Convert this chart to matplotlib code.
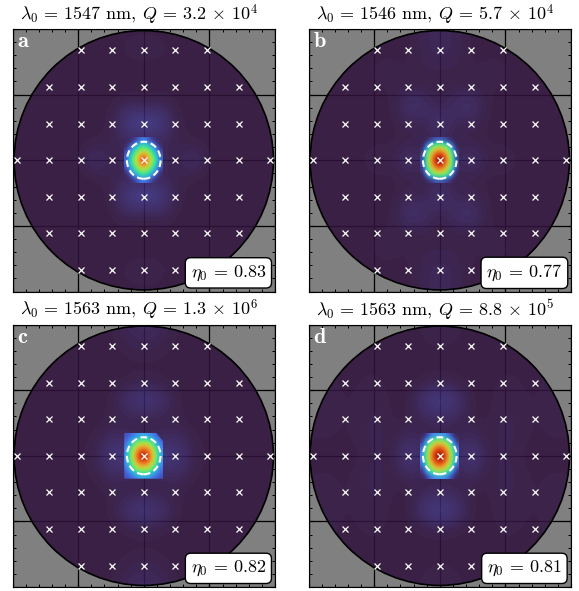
import numpy as np
import matplotlib
matplotlib.use('Agg')
import matplotlib.pyplot as plt
from matplotlib.patches import Circle, Ellipse, Polygon
from matplotlib.ticker import MultipleLocator

plt.rcParams['mathtext.fontset'] = 'cm'
plt.rcParams['font.family'] = 'serif'
plt.rcParams['font.serif'] = ['DejaVu Serif']

panel_names = ['a', 'b', 'c', 'd']
wavelengths = [1547, 1546, 1563, 1563]
q_mant = ['3.2', '5.7', '1.3', '8.8']
q_exp = [4, 4, 6, 5]
eta = ['0.83', '0.77', '0.82', '0.81']

# lattice of the crosses
dx = 0.2408
dy = 0.2788
row_index = [-3, -2, -1, 0, 1, 2, 3]
row_halfcount = [2, 3, 3, 4, 3, 3, 2]

circle_r = 0.988
ell_w = 0.128
ell_h = 0.141

# far field, one quadrant, rows go up in steps of dy/2, columns go right in steps of dx/2
far_a = [[.03, .02, .006, .028, .006, 0, 0, 0, 0],
         [.012, .012, .006, .004, .001, 0, 0, 0, 0],
         [.060, .050, .006, .001, 0, 0, 0, 0, 0],
         [.006, .012, .004, 0, 0, 0, 0, 0, 0],
         [0, .001, 0, 0, 0, 0, 0, 0, 0],
         [0, 0, 0, 0, 0, 0, 0, 0, 0],
         [.010, .008, 0, 0, 0, 0, 0, 0, 0],
         [.002, .002, 0, 0, 0, 0, 0, 0, 0]]
far_b = [[.03, .015, .030, .006, .010, .004, 0, 0, 0],
         [.012, .005, .005, .002, .003, 0, 0, 0, 0],
         [.035, .008, .012, .002, .002, 0, 0, 0, 0],
         [.005, .024, .030, .003, .002, 0, 0, 0, 0],
         [.003, .005, .005, .004, .004, .002, 0, 0, 0],
         [.008, .008, .003, .006, .006, .001, 0, 0, 0],
         [.016, .010, .003, .002, .002, 0, 0, 0, 0],
         [.016, .010, .002, 0, 0, 0, 0, 0, 0]]
far_c = [[.05, .050, .040, .010, .003, .002, .002, .002, 0],
         [.010, .012, .020, .006, .001, .001, .001, .001, 0],
         [.006, .006, .004, .001, .001, .001, .001, .001, 0],
         [.045, .030, .006, .001, .001, .002, .002, .001, 0],
         [.006, .005, .001, .001, .001, .001, .001, .001, 0],
         [.002, .002, .001, .003, .003, .002, .001, 0, 0],
         [.010, .008, .002, .004, .002, .001, 0, 0, 0],
         [.020, .014, .003, .002, 0, 0, 0, 0, 0]]
far_d = [[.05, .020, .045, .003, .010, .003, .002, .003, .003],
         [.008, .005, .018, .003, .012, .006, .003, .004, .004],
         [.015, .012, .002, .003, .010, .006, .003, .006, .004],
         [.055, .035, .002, .002, .008, .006, .003, .008, .006],
         [.006, .005, .001, .002, .005, .004, .002, .006, .006],
         [.002, .002, .001, .002, .003, .003, .002, .003, .002],
         [.004, .003, .001, .001, .001, 0, 0, 0, 0],
         [.010, .006, .001, 0, 0, 0, 0, 0, 0]]

# centre spot, one quadrant, first row is the horizontal cut through the peak
core_xstep = 0.027
core_ystep = 0.0317
core_a = [[.85, .74, .56, .42, .27, .12],
          [.76, .68, .52, .38, .24, .11],
          [.58, .54, .42, .30, .18, .09],
          [.42, .38, .30, .20, .12, .06],
          [.28, .25, .18, .12, .07, .04],
          [.14, .12, .09, .06, .04, .03]]
core_b = [[.95, .90, .75, .55, .32, .09],
          [.90, .85, .72, .52, .30, .08],
          [.76, .72, .60, .43, .24, .07],
          [.58, .55, .45, .32, .16, .05],
          [.36, .34, .28, .18, .09, .03],
          [.10, .10, .08, .06, .035, .02]]
core_c = [[.90, .86, .74, .56, .38, .22],
          [.85, .82, .71, .54, .36, .20],
          [.72, .70, .61, .46, .30, .17],
          [.56, .54, .47, .35, .23, .14],
          [.38, .37, .32, .24, .16, .11],
          [.22, .21, .18, .14, .11, .09]]
core_d = [[.95, .91, .78, .60, .38, .16],
          [.90, .87, .75, .57, .36, .15],
          [.79, .76, .65, .50, .30, .12],
          [.64, .61, .52, .38, .21, .09],
          [.44, .42, .35, .24, .13, .06],
          [.20, .19, .16, .11, .07, .04]]

far_tables = [far_a, far_b, far_c, far_d]
core_tables = [core_a, core_b, core_c, core_d]

W, H = 579, 591
# axes corners in pixels, left and top
ax_left = [12.5, 308.5, 12.5, 308.5]
ax_top = [29, 29, 324.5, 324.5]
ax_size = 262.5


def mirror(q):
    q = np.array(q)
    q = np.hstack([q[:, :0:-1], q])
    q = np.vstack([q[:0:-1, :], q])
    return q


fig = plt.figure(figsize=(W / 100, H / 100), dpi=100)
turbo = plt.get_cmap('turbo')

for k in range(4):
    ax = fig.add_axes([ax_left[k] / W, 1 - (ax_top[k] + ax_size) / H, ax_size / W, ax_size / H])
    ax.set_facecolor('#808080')
    ax.set_axisbelow(True)

    clip = Circle((0, 0), circle_r, fc='none', ec='black', lw=1.2, zorder=3)
    ax.add_patch(clip)

    far = mirror(far_tables[k])
    ny, nx = far.shape
    sx, sy = dx / 2, dy / 2
    im = ax.imshow(far, cmap='turbo', vmin=0, vmax=1, origin='lower', alpha=0.87,
                   interpolation='bicubic', zorder=1,
                   extent=[-nx / 2 * sx, nx / 2 * sx, -ny / 2 * sy, ny / 2 * sy])
    im.set_clip_path(clip)

    core = mirror(core_tables[k])
    ny, nx = core.shape
    ext = [-nx / 2 * core_xstep, nx / 2 * core_xstep, -ny / 2 * core_ystep, ny / 2 * core_ystep]
    rgba = turbo(core)
    if panel_names[k] == 'c':
        rgba[..., 3] = 0.96
    else:
        # fade the weak edge of the box into the far field
        rgba[..., 3] = 0.96 * np.clip((core - 0.02) / 0.1, 0, 1)
    im2 = ax.imshow(rgba, origin='lower', interpolation='bicubic', zorder=1.5, extent=ext)
    if panel_names[k] == 'c':
        # the box of panel c has its upper right corner cut off
        cut = Polygon([(ext[0], ext[2]), (ext[1], ext[2]), (ext[1], 0.11), (0.095, ext[3]), (ext[0], ext[3])],
                      transform=ax.transData, fc='none', ec='none')
        ax.add_patch(cut)
        im2.set_clip_path(cut)

    for r, n in zip(row_index, row_halfcount):
        xs = dx * np.arange(-n, n + 1)
        ys = np.full(xs.shape, r * dy)
        ax.plot(xs, ys, ls='none', marker='x', ms=4, mew=0.9, color='white', zorder=4)

    ax.add_patch(Ellipse((0, 0), 2 * ell_w, 2 * ell_h, fc='none', ec='white', lw=1.5,
                         ls=(0, (3.2, 1.8)), zorder=5))

    ax.set_xlim(-1, 1)
    ax.set_ylim(-1, 1)
    ax.set_aspect('auto')
    ax.xaxis.set_major_locator(MultipleLocator(0.5))
    ax.yaxis.set_major_locator(MultipleLocator(0.5))
    ax.xaxis.set_minor_locator(MultipleLocator(0.1))
    ax.yaxis.set_minor_locator(MultipleLocator(0.1))
    ax.tick_params(which='both', direction='in', top=True, right=True,
                   labelbottom=False, labelleft=False)
    ax.tick_params(which='major', length=3, width=0.8)
    ax.tick_params(which='minor', length=2, width=0.7)
    ax.grid(True, which='major', color='black', lw=0.9)

    ax.text(0.483, 1.034, r'$\lambda_0\,=\,%d\ \mathrm{nm},\;Q\,=\,%s\,\times\,10^{%d}$' % (wavelengths[k], q_mant[k], q_exp[k]),
            transform=ax.transAxes, fontsize=13, ha='center', va='baseline')
    ax.text(0.018, 0.995, r'$\mathbf{%s}$' % panel_names[k], transform=ax.transAxes, color='white',
            fontsize=16, ha='left', va='top', zorder=6)
    ax.text(0.8225, 0.071, r'$\eta_0\,=\,%s$' % eta[k], transform=ax.transAxes, fontsize=13,
            ha='center', va='center', zorder=7,
            bbox=dict(boxstyle='round,pad=0.3,rounding_size=0.3', fc='white', ec='black', lw=1))

fig.savefig('out.png', dpi=100)
